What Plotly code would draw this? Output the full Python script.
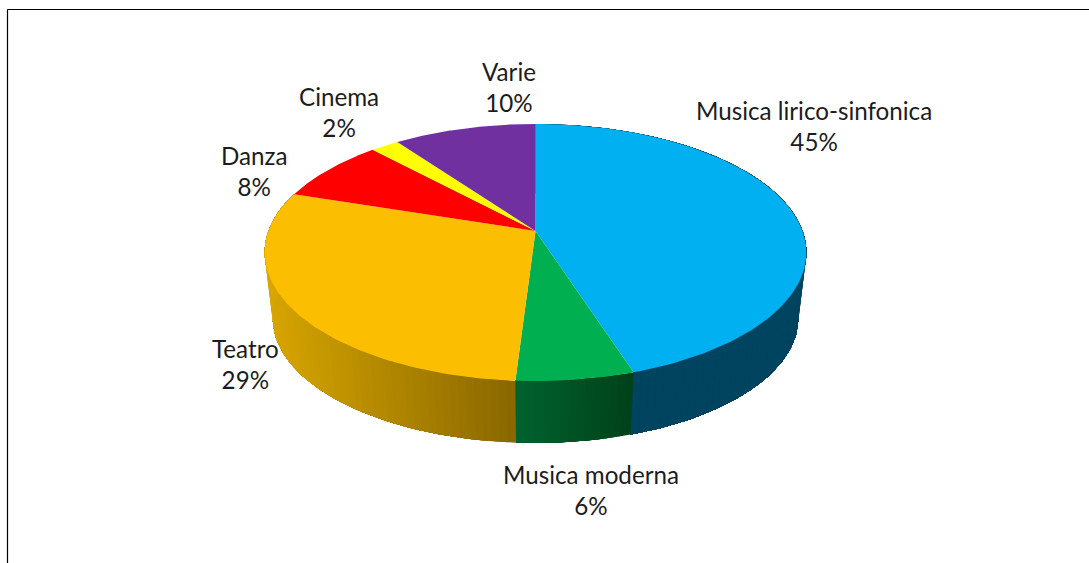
import numpy as np
import plotly.graph_objects as go

categories = ["Musica lirico-sinfonica", "Musica moderna", "Teatro", "Danza", "Cinema", "Varie"]
shares = [45, 6, 29, 8, 2, 10]
colors = ["#00B0F0", "#00B050", "#FCBE00", "#FF0000", "#FFFF00", "#7030A0"]

# shading of the visible rim: colour at the left and right end of each slice's wall
wall_left = {0: (0, 68, 96), 1: (0, 100, 48), 2: (216, 166, 0)}
wall_right = {0: (0, 68, 96), 1: (0, 66, 26), 2: (138, 104, 0)}

# label placement (text centre, in pixels of the picture)
label_x = [814, 591, 245, 254, 339, 509]
label_y = [127, 491, 365, 172, 113, 88]

# view of the disc
CX, CY = 535.5, 231.0
PERSP, RX, RY_K = 0.1673, 267.0, 124.9
WALL_SCALE, WALL_DROP = 0.97, 66.5


def top(a):
    u, v = np.sin(a), np.cos(a)
    w = 1 + PERSP * v
    return CX + RX * u / w, CY - RY_K * v / w


def bottom(a):
    x, y = top(a)
    return CX + (x - CX) * WALL_SCALE, CY + (y - CY) * WALL_SCALE + WALL_DROP


def poly(x, y, color):
    return go.Scatter(x=list(x), y=list(y), mode="lines", fill="toself", fillcolor=color,
                      line=dict(color=color, width=0), hoverinfo="skip", showlegend=False)


edges = np.concatenate([[0], np.cumsum(shares)]) / sum(shares) * 2 * np.pi
fig = go.Figure()

# walls, only the slices facing the viewer; each band runs on to the slice's end
# and the next band paints over it, so no seams appear between bands
for i in wall_left:
    a0, a1 = edges[i], edges[i + 1]
    steps = np.arange(a0, a1, np.radians(1.5))
    xs = top(np.append(steps, a1))[0]
    lo, hi = xs.min(), xs.max()
    for s0 in steps:
        t = np.append(np.arange(s0, a1, np.radians(1.5)), a1)
        xt, yt = top(t)
        xb, yb = bottom(t)
        f = (top(s0)[0] - lo) / (hi - lo)
        c = [round(l + (r - l) * f) for l, r in zip(wall_left[i], wall_right[i])]
        col = f"rgb({c[0]},{c[1]},{c[2]})"
        fig.add_trace(poly(np.r_[xt, xb[::-1], xt[0]], np.r_[yt, yb[::-1], yt[0]], col))

# top face
for i, col in enumerate(colors):
    t = np.linspace(edges[i], edges[i + 1], 120)
    x, y = top(t)
    fig.add_trace(poly(np.r_[CX, x, CX], np.r_[CY, y, CY], col))

for name, share, lx, ly in zip(categories, shares, label_x, label_y):
    fig.add_annotation(x=lx, y=ly - 1, xref="x", yref="y", text=f"{name}<br>{share}%", showarrow=False,
                       align="center", font=dict(family="Lato, Carlito, sans-serif", size=24.2, color="#1c1c1c"))

fig.add_shape(type="line", x0=7.5, x1=7.5, y0=563, y1=9.5, xref="x", yref="y", line=dict(color="black", width=1.2))
fig.add_shape(type="line", x0=7.5, x1=1089, y0=9.5, y1=9.5, xref="x", yref="y", line=dict(color="black", width=1.2))

fig.update_layout(width=1089, height=563, margin=dict(l=0, r=0, t=0, b=0), paper_bgcolor="white",
                  plot_bgcolor="white", showlegend=False,
                  xaxis=dict(range=[0, 1089], visible=False, fixedrange=True),
                  yaxis=dict(range=[563, 0], visible=False, fixedrange=True))

fig.write_html("out.html", config=dict(displayModeBar=False),
               post_script="document.body.style.margin='0';document.documentElement.style.overflow='hidden';")
